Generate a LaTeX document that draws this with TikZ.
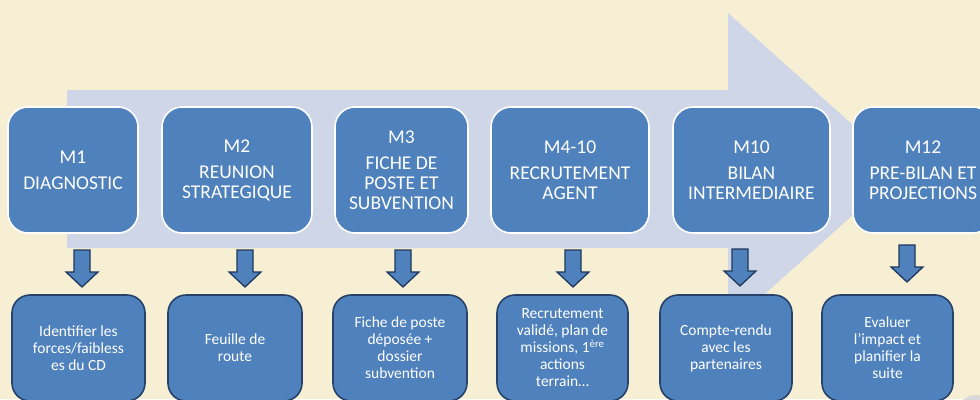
\documentclass[tikz,border=0pt]{standalone}
\usepackage{fontspec}
\setmainfont{Carlito}
\definecolor{bgcream}{RGB}{246,239,212}
\definecolor{lav}{RGB}{206,214,231}
\definecolor{boxblue}{RGB}{79,129,189}
\definecolor{boxedge}{RGB}{38,66,104}
\definecolor{arredge}{RGB}{31,56,92}
\tikzset{
  topbox/.style={draw=white, line width=1.6pt, fill=boxblue, rounded corners=20pt,
    inner sep=0pt, minimum height=126pt, text=white, align=center,
    font=\fontsize{19.5}{20}\selectfont},
  botbox/.style={draw=boxedge, line width=1.6pt, fill=boxblue, rounded corners=18pt,
    inner sep=0pt, minimum height=106pt, text=white, align=center,
    font=\fontsize{15.5}{17}\selectfont},
  arrstyle/.style={draw=arredge, line width=1.3pt, fill=boxblue, line join=miter},
  pics/dnarrow/.style={code={
    \draw[arrstyle] (-8,0) -- (8,0) -- (8,22) -- (16,22) -- (0,37) -- (-16,22) -- (-8,22) -- cycle;}}
}
\begin{document}
\begin{tikzpicture}[x=1pt,y=-1pt]
\useasboundingbox (0,0) rectangle (980,399);
\clip (0,0) rectangle (980,399);
\fill[bgcream] (0,0) rectangle (980,399);
% big background arrow
\fill[lav] (67,90) -- (728,90) -- (728,13) -- (903,170) -- (728,327) -- (728,248) -- (67,248) -- cycle;
% top boxes
\node[topbox, minimum width=130pt] (t1) at (73,170) {M1\\[6pt]DIAGNOSTIC};
\node[topbox, minimum width=150pt] (t2) at (237,170) {M2\\[6pt]REUNION\\STRATEGIQUE};
\node[topbox, minimum width=133pt] (t3) at (401.5,170) {M3\\[6pt]FICHE DE\\POSTE ET\\SUBVENTION};
\node[topbox, minimum width=158pt] (t4) at (570,170) {M4-10\\[6pt]RECRUTEMENT\\AGENT};
\node[topbox, minimum width=157pt] (t5) at (751.5,170) {M10\\[6pt]BILAN\\INTERMEDIAIRE};
\node[topbox, minimum width=140pt] (t6) at (923,170) {M12\\[6pt]PRE-BILAN ET\\PROJECTIONS};
% down arrows
\pic at (82,250) {dnarrow};
\pic at (245,250) {dnarrow};
\pic at (403,250) {dnarrow};
\pic at (573,250) {dnarrow};
\pic at (740,249) {dnarrow};
\pic at (907,245) {dnarrow};
% bottom boxes
\node[botbox, minimum width=133pt] (b1) at (78.5,348) {Identifier les\\forces/faibless\\es du CD};
\node[botbox, minimum width=134pt] (b2) at (235,348) {Feuille de\\route};
\node[botbox, minimum width=134pt] (b3) at (400,348) {Fiche de poste\\déposée +\\dossier\\subvention};
\node[botbox, minimum width=131pt] (b4) at (562.5,348) {Recrutement\\validé, plan de\\missions, 1\textsuperscript{ère}\\actions\\terrain\dots};
\node[botbox, minimum width=132pt] (b5) at (726,348) {Compte-rendu\\avec les\\partenaires};
\node[botbox, minimum width=131pt] (b6) at (887.5,348) {Evaluer\\l’impact et\\planifier la\\suite};
% slide control artefact
\fill[gray!30] (975,412) circle (17);
\end{tikzpicture}
\end{document}
